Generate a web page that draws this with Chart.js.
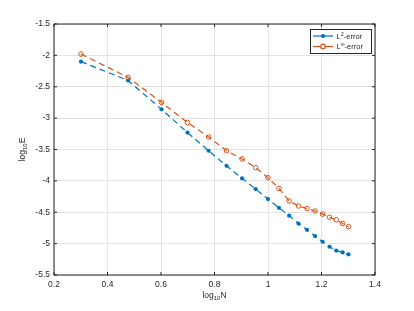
<!DOCTYPE html>
<html>
<head>
<meta charset="utf-8">
<script src="https://cdn.jsdelivr.net/npm/chart.js@4/dist/chart.umd.min.js"></script>
<style>
  html, body { margin: 0; padding: 0; background: #fff; }
</style>
</head>
<body>
<canvas id="c" width="414" height="311"></canvas>
<script>
// data
const logN = [0.301, 0.477, 0.602, 0.699, 0.778, 0.845, 0.903, 0.954, 1.0, 1.041, 1.079, 1.114, 1.146, 1.176, 1.204, 1.230, 1.255, 1.279, 1.301];
const l2Err = [-2.10, -2.40, -2.86, -3.23, -3.52, -3.76, -3.96, -4.13, -4.29, -4.43, -4.555, -4.68, -4.78, -4.88, -4.97, -5.05, -5.11, -5.14, -5.17];
const linfErr = [-1.98, -2.35, -2.75, -3.07, -3.30, -3.52, -3.65, -3.79, -3.95, -4.12, -4.32, -4.40, -4.44, -4.48, -4.53, -4.58, -4.62, -4.68, -4.73];
const xTicks = [0.2, 0.4, 0.6, 0.8, 1, 1.2, 1.4];
const yTicks = [-5.5, -5, -4.5, -4, -3.5, -3, -2.5, -2, -1.5];

const BLUE = "#0072BD";
const ORANGE = "#D95319";
const AXIS = "#262626";
const FONT = "Liberation Sans, Arial, sans-serif";

// draws "log" + subscript "10" + letter, at a given position
function drawLogLabel(ctx, x, y, letter, size) {
  ctx.save();
  ctx.fillStyle = AXIS;
  ctx.textBaseline = "middle";
  const big = size + "px " + FONT;
  const small = (size * 0.7) + "px " + FONT;
  ctx.font = big;
  const w1 = ctx.measureText("log").width;
  const w3 = ctx.measureText(letter).width;
  ctx.font = small;
  const w2 = ctx.measureText("10").width;
  let cx = x - (w1 + w2 + w3) / 2;
  ctx.textAlign = "left";
  ctx.font = big;
  ctx.fillText("log", cx, y);
  cx += w1;
  ctx.font = small;
  ctx.fillText("10", cx, y + size * 0.3);
  cx += w2;
  ctx.font = big;
  ctx.fillText(letter, cx, y);
  ctx.restore();
}

const matlabAxes = {
  id: "matlabAxes",
  afterDraw(chart) {
    const ctx = chart.ctx;
    const a = chart.chartArea;
    const xs = chart.scales.x, ys = chart.scales.y;
    ctx.save();
    ctx.strokeStyle = AXIS;
    ctx.lineWidth = 1;
    // box
    ctx.strokeRect(a.left, a.top, a.right - a.left, a.bottom - a.top);
    // inward ticks on all sides
    ctx.beginPath();
    xTicks.forEach(v => {
      const px = xs.getPixelForValue(v);
      ctx.moveTo(px, a.bottom); ctx.lineTo(px, a.bottom - 3);
      ctx.moveTo(px, a.top); ctx.lineTo(px, a.top + 3);
    });
    yTicks.forEach(v => {
      const py = ys.getPixelForValue(v);
      ctx.moveTo(a.left, py); ctx.lineTo(a.left + 3, py);
      ctx.moveTo(a.right, py); ctx.lineTo(a.right - 3, py);
    });
    ctx.stroke();

    // axis titles
    drawLogLabel(ctx, (a.left + a.right) / 2, 296, "N", 8.5);
    ctx.save();
    ctx.translate(23, (a.top + a.bottom) / 2);
    ctx.rotate(-Math.PI / 2);
    drawLogLabel(ctx, 0, 0, "E", 8.5);
    ctx.restore();

    // legend
    const lx = 310.5, ly = 29.5, lw = 61, lh = 24;
    ctx.fillStyle = "#fff";
    ctx.fillRect(lx, ly, lw, lh);
    ctx.strokeStyle = AXIS;
    ctx.strokeRect(lx, ly, lw, lh);
    const rows = [
      { y: 36, color: BLUE, filled: true, sup: "2" },
      { y: 46.5, color: ORANGE, filled: false, sup: "\u221E" }
    ];
    rows.forEach(r => {
      ctx.strokeStyle = r.color;
      ctx.lineWidth = 1.2;
      ctx.beginPath();
      ctx.moveTo(313, r.y); ctx.lineTo(333, r.y);
      ctx.stroke();
      ctx.beginPath();
      ctx.arc(323, r.y, r.filled ? 2.1 : 2.3, 0, Math.PI * 2);
      if (r.filled) { ctx.fillStyle = r.color; ctx.fill(); }
      else { ctx.fillStyle = "#fff"; ctx.fill(); ctx.stroke(); }
      ctx.fillStyle = AXIS;
      ctx.textAlign = "left";
      ctx.textBaseline = "middle";
      ctx.font = "7.5px " + FONT;
      let tx = 336.5;
      ctx.fillText("L", tx, r.y + 0.5);
      tx += ctx.measureText("L").width;
      ctx.font = "5.5px " + FONT;
      ctx.fillText(r.sup, tx, r.y - 2);
      tx += ctx.measureText(r.sup).width;
      ctx.font = "7.5px " + FONT;
      ctx.fillText("-error", tx, r.y + 0.5);
    });
    ctx.restore();
  }
};

new Chart(document.getElementById("c"), {
  type: "scatter",
  data: {
    datasets: [
      {
        label: "L2-error",
        data: logN.map((x, i) => ({ x: x, y: l2Err[i] })),
        showLine: true,
        borderColor: BLUE,
        borderWidth: 1.2,
        borderDash: [6, 4],
        pointRadius: 2.1,
        pointBackgroundColor: BLUE,
        pointBorderColor: BLUE,
        pointBorderWidth: 0
      },
      {
        label: "Linf-error",
        data: logN.map((x, i) => ({ x: x, y: linfErr[i] })),
        showLine: true,
        borderColor: ORANGE,
        borderWidth: 1.2,
        borderDash: [6, 4],
        pointRadius: 2.3,
        pointBackgroundColor: "rgba(0,0,0,0)",
        pointBorderColor: ORANGE,
        pointBorderWidth: 1
      }
    ]
  },
  options: {
    responsive: false,
    animation: false,
    layout: { padding: { left: 0, top: 24, right: 39, bottom: 0 } },
    plugins: {
      legend: { display: false },
      tooltip: { enabled: false }
    },
    scales: {
      x: {
        type: "linear",
        min: 0.2,
        max: 1.4,
        afterBuildTicks: s => { s.ticks = xTicks.map(v => ({ value: v })); },
        afterFit: s => { s.height = 36; },
        grid: { color: "#e3e3e3", lineWidth: 1, drawTicks: false },
        border: { display: false },
        ticks: {
          padding: 5,
          color: AXIS,
          font: { family: FONT, size: 8.5 },
          maxRotation: 0,
          callback: v => String(v)
        }
      },
      y: {
        type: "linear",
        min: -5.5,
        max: -1.5,
        afterBuildTicks: s => { s.ticks = yTicks.map(v => ({ value: v })); },
        afterFit: s => { s.width = 54; },
        grid: { color: "#e3e3e3", lineWidth: 1, drawTicks: false },
        border: { display: false },
        ticks: {
          padding: 4,
          color: AXIS,
          font: { family: FONT, size: 8.5 },
          callback: v => String(v)
        }
      }
    }
  },
  plugins: [matlabAxes]
});
</script>
</body>
</html>
